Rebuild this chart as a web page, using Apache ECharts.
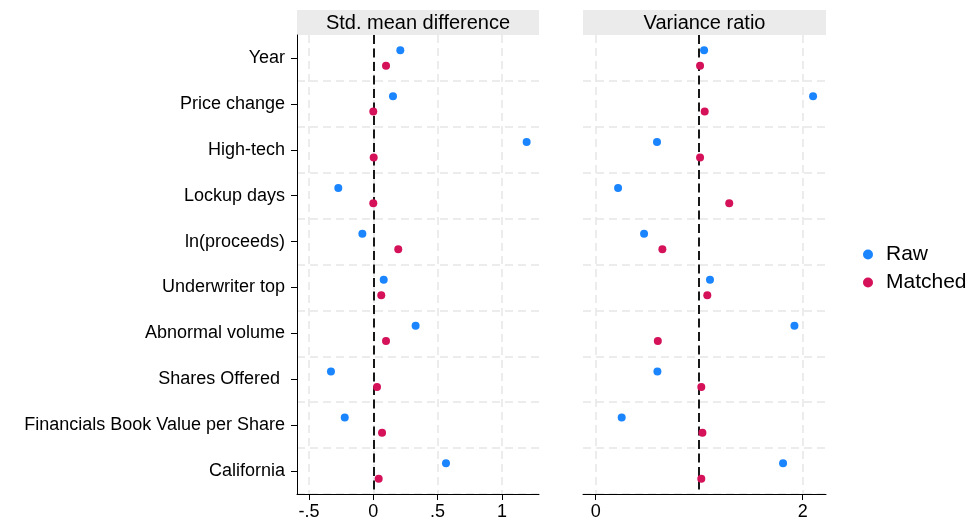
<!DOCTYPE html>
<html>
<head>
<meta charset="utf-8">
<script src="https://cdn.jsdelivr.net/npm/echarts@6/dist/echarts.min.js"></script>
<style>html,body{margin:0;padding:0;background:#fff}#c{width:972px;height:522px}</style>
</head>
<body>
<div id="c"></div>
<script>
const categories = ['Year', 'Price change', 'High-tech', 'Lockup days', 'ln(proceeds)', 'Underwriter top', 'Abnormal volume', 'Shares Offered ', 'Financials Book Value per Share', 'California'];
const smdRaw =     [0.21, 0.153, 1.192, -0.272, -0.085, 0.081, 0.329, -0.329, -0.222, 0.565];
const smdMatched = [0.099, 0.0, 0.003, 0.0, 0.194, 0.062, 0.099, 0.029, 0.068, 0.042];
const vrRaw =      [1.047, 2.10, 0.592, 0.216, 0.467, 1.104, 1.92, 0.596, 0.251, 1.81];
const vrMatched =  [1.008, 1.053, 1.008, 1.29, 0.644, 1.078, 0.60, 1.02, 1.031, 1.02];
const smdTicks = [-0.5, 0, 0.5, 1];
const vrTicks = [0, 2];
const panelTitles = ['Std. mean difference', 'Variance ratio'];
const refLines = [0, 1];
const seriesNames = ['Raw', 'Matched'];

const FONT = "'Liberation Sans', Arial, Helvetica, sans-serif";
const BLUE = '#1A85FF', RED = '#D41159';
const fmt = v => { if (v === 0) return '0'; let s = String(v); return s.replace(/^(-?)0\./, '$1.'); };

const grids = [
  {left: 297, right: 433, top: 35, bottom: 28},
  {left: 583, right: 146, top: 35, bottom: 28}
];
const gridLine = {show: true, lineStyle: {color: '#e6e6e6', width: 1.5, type: [8, 5]}};

function xAxis(idx, min, max, ticks) {
  return {
    type: 'value', gridIndex: idx, min: min, max: max,
    axisLine: {show: true, onZero: false, lineStyle: {color: '#000', width: 1}},
    axisTick: {show: true, length: 6, customValues: ticks, lineStyle: {color: '#000'}},
    axisLabel: {customValues: ticks, formatter: fmt, color: '#000', fontSize: 18, fontFamily: FONT, margin: 9},
    splitLine: gridLine
  };
}
function yAxis(idx, showLabels) {
  return {
    type: 'category', gridIndex: idx, data: categories, inverse: true, boundaryGap: true,
    axisLine: {show: showLabels, onZero: false, lineStyle: {color: '#000', width: 1}},
    axisTick: {show: showLabels, alignWithLabel: true, length: 6, lineStyle: {color: '#000'}},
    axisLabel: {show: showLabels, color: '#000', fontSize: 18, fontFamily: FONT, margin: 12},
    splitLine: Object.assign({}, gridLine, {interval: (i) => i !== 0})
  };
}
function dots(name, vals, idx, color, off) {
  return {
    type: 'scatter', name: name, xAxisIndex: idx, yAxisIndex: idx, z: 5,
    symbol: 'circle', symbolSize: 8, symbolOffset: [0, off],
    itemStyle: {color: color, opacity: 1}, silent: true,
    data: vals.map((v, i) => [v, i])
  };
}
function ref(idx, val) {
  return {
    type: 'scatter', xAxisIndex: idx, yAxisIndex: idx, data: [], z: 2,
    markLine: {silent: true, symbol: 'none', label: {show: false},
      lineStyle: {color: '#000', width: 1.8, type: [9, 4.5]},
      data: [{xAxis: val}]}
  };
}

const chart = echarts.init(document.getElementById('c'), null, {renderer: 'canvas'});
chart.setOption({
  animation: false,
  backgroundColor: '#fff',
  grid: grids,
  xAxis: [xAxis(0, -0.593, 1.288, smdTicks), xAxis(1, -0.123, 2.225, vrTicks)],
  yAxis: [yAxis(0, true), yAxis(1, false)],
  legend: {
    data: seriesNames, orient: 'vertical', left: 863, top: 244, padding: 0,
    icon: 'circle', itemWidth: 10, itemHeight: 10, itemGap: 7,
    itemStyle: {opacity: 1},
    textStyle: {color: '#000', fontSize: 21, fontFamily: FONT, lineHeight: 21, padding: [0, 0, 0, 8]}
  },
  graphic: grids.map((g, i) => ({
    type: 'group', left: g.left, top: 10,
    children: [
      {type: 'rect', shape: {x: 0, y: 0, width: 972 - g.left - g.right, height: 25}, style: {fill: '#ebebeb'}},
      {type: 'text', x: (972 - g.left - g.right) / 2, y: 13,
       style: {text: panelTitles[i], fill: '#000', font: '20px ' + FONT, align: 'center', verticalAlign: 'middle'}}
    ]
  })),
  series: [
    ref(0, refLines[0]), ref(1, refLines[1]),
    dots(seriesNames[0], smdRaw, 0, BLUE, -7.7),
    dots(seriesNames[1], smdMatched, 0, RED, 7.7),
    dots(seriesNames[0], vrRaw, 1, BLUE, -7.7),
    dots(seriesNames[1], vrMatched, 1, RED, 7.7)
  ]
});
</script>
</body>
</html>
